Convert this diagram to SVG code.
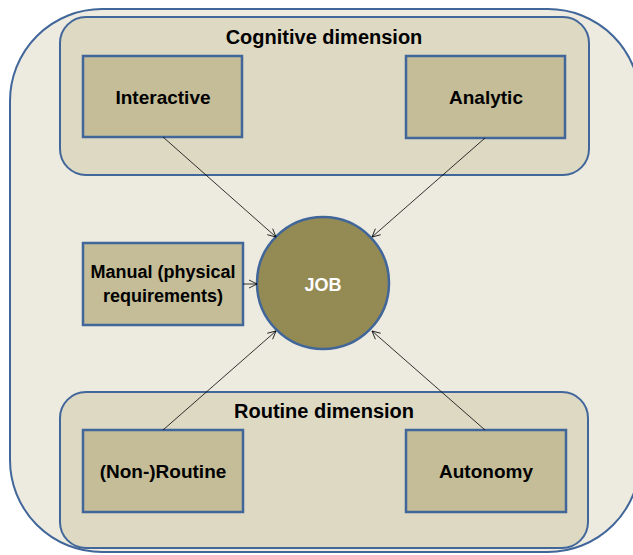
<svg xmlns="http://www.w3.org/2000/svg" width="633" height="555" viewBox="0 0 633 555">
<style>
.outer{fill:#EDEBE0;stroke:#41669A;stroke-width:2}
.grp{fill:#DDD9C3;stroke:#41669A;stroke-width:2}
.box{fill:#C4BD97;stroke:#41669A;stroke-width:2.5}
.job{fill:#948A54;stroke:#41669A;stroke-width:2.5}
.title{font-family:"Liberation Sans",Arial,sans-serif;font-weight:bold;font-size:20px;fill:#000;text-anchor:middle}
.lbl{font-family:"Liberation Sans",Arial,sans-serif;font-weight:bold;font-size:19px;fill:#000;text-anchor:middle}
.lbls{font-family:"Liberation Sans",Arial,sans-serif;font-weight:bold;font-size:18px;fill:#000;text-anchor:middle}
.jl{font-family:"Liberation Sans",Arial,sans-serif;font-weight:bold;font-size:18px;fill:#fff;text-anchor:middle}
.con{stroke:#000;stroke-width:0.8;fill:none;marker-end:url(#arr)}
</style>
<defs>
<marker id="arr" markerUnits="userSpaceOnUse" markerWidth="12" markerHeight="12" refX="9" refY="5" orient="auto">
<path d="M1,1 L9,5 L1,9" fill="none" stroke="#000" stroke-width="0.8"/>
</marker>
</defs>
<g id="background">
<rect class="outer" x="10" y="9" width="630" height="543" rx="92" ry="92"/>
</g>
<g id="cognitive-dimension">
<rect class="grp" x="60" y="17" width="529" height="158" rx="26" ry="26"/>
<text class="title" x="324" y="44">Cognitive dimension</text>
</g>
<g id="routine-dimension">
<rect class="grp" x="60" y="392" width="528" height="156" rx="26" ry="26"/>
<text class="title" x="324" y="418">Routine dimension</text>
</g>
<g id="interactive">
<rect class="box" x="83" y="56" width="159" height="81"/>
<text class="lbl" x="163" y="104">Interactive</text>
</g>
<g id="analytic">
<rect class="box" x="406" y="56" width="159" height="82"/>
<text class="lbl" x="486" y="104">Analytic</text>
</g>
<g id="manual">
<rect class="box" x="83" y="243" width="160" height="82"/>
<text class="lbls" x="163" y="278">Manual (physical</text>
<text class="lbls" x="163" y="302">requirements)</text>
</g>
<g id="job">
<circle class="job" cx="323" cy="283" r="66"/>
<text class="jl" x="323" y="291">JOB</text>
</g>
<g id="non-routine">
<rect class="box" x="83" y="430" width="160" height="82"/>
<text class="lbl" x="163" y="478">(Non-)Routine</text>
</g>
<g id="autonomy">
<rect class="box" x="406" y="430" width="160" height="82"/>
<text class="lbl" x="486" y="478">Autonomy</text>
</g>
<g id="connectors">
<line class="con" x1="163" y1="137" x2="276" y2="237"/>
<line class="con" x1="485" y1="138" x2="372" y2="237"/>
<line class="con" x1="243" y1="284" x2="257" y2="284"/>
<line class="con" x1="163" y1="430" x2="276" y2="331"/>
<line class="con" x1="485" y1="430" x2="372" y2="331"/>
</g>
</svg>
